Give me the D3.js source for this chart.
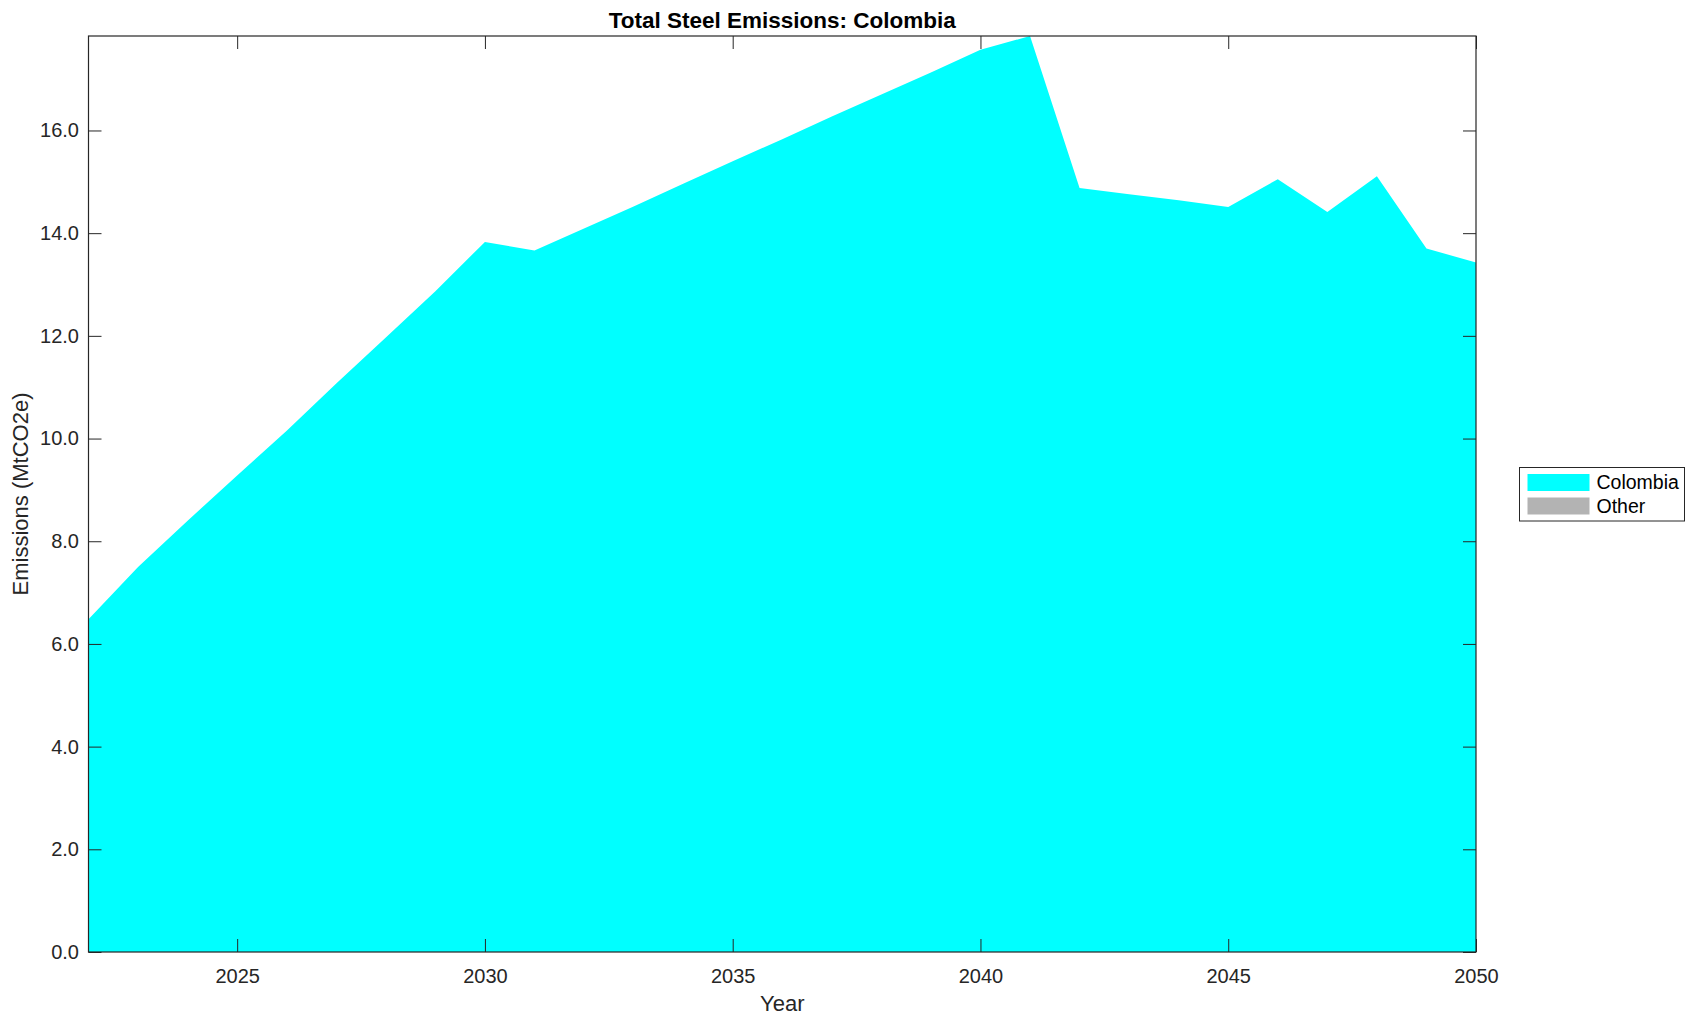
<!DOCTYPE html>
<html>
<head>
<meta charset="utf-8">
<script src="https://cdn.jsdelivr.net/npm/d3@7"></script>
<style>
    body { margin: 0; background: #fff; }
    text { font-family: "Liberation Sans", Arial, Helvetica, sans-serif; fill: #262626; }
</style>
</head>
<body>
<script>
var years = [2022, 2023, 2024, 2025, 2026, 2027, 2028, 2029, 2030, 2031, 2032, 2033, 2034, 2035,
    2036, 2037, 2038, 2039, 2040, 2041, 2042, 2043, 2044, 2045, 2046, 2047, 2048, 2049, 2050];
var colombia = [6.48, 7.50, 8.40, 9.28, 10.15, 11.07, 11.97, 12.87, 13.83, 13.66, 14.09, 14.52, 14.96, 15.40,
    15.83, 16.27, 16.70, 17.13, 17.57, 17.84, 14.88, 14.76, 14.64, 14.51, 15.05, 14.41, 15.11, 13.70, 13.43];
var other = [0, 0, 0, 0, 0, 0, 0, 0, 0, 0, 0, 0, 0, 0,
    0, 0, 0, 0, 0, 0, 0, 0, 0, 0, 0, 0, 0, 0, 0];
var seriesNames = ["Colombia", "Other"];
var seriesColors = ["#00ffff", "#b3b3b3"];
var xTicks = [2025, 2030, 2035, 2040, 2045, 2050];
var yTicks = [0, 2, 4, 6, 8, 10, 12, 14, 16];

(function () {
    var width = 1695,
        height = 1021;
    var left = 88.5, right = 1476, top = 36, bottom = 952;

    var rows = years.map(function (y, i) {
        return {year: y, Colombia: colombia[i], Other: other[i]};
    });
    var stacked = d3.stack().keys(seriesNames)(rows);

    var x = d3.scaleLinear().domain([2022, 2050]).range([left, right]);
    var ymax = d3.max(stacked[stacked.length - 1], function (d) { return d[1]; });
    var y = d3.scaleLinear().domain([0, ymax]).range([bottom, top]);

    var svg = d3.select("body").append("svg")
        .attr("width", width)
        .attr("height", height);

    var area = d3.area()
        .x(function (d) { return x(d.data.year); })
        .y0(function (d) { return y(d[0]); })
        .y1(function (d) { return y(d[1]); });

    svg.append("g")
        .selectAll("path")
        .data(stacked)
        .enter().append("path")
        .attr("d", area)
        .attr("fill", function (d, i) { return seriesColors[i]; });

    // axes, ticks pointing inward like matlab
    var axisColor = "#262626";
    var tickLen = 13;

    var xb = svg.append("g").attr("transform", "translate(0," + bottom + ")")
        .call(d3.axisBottom(x).tickValues(xTicks).tickFormat(d3.format("d")).tickSizeInner(-tickLen).tickSizeOuter(0).tickPadding(17));
    var xt = svg.append("g").attr("transform", "translate(0," + top + ")")
        .call(d3.axisTop(x).tickValues(xTicks).tickFormat("").tickSizeInner(-tickLen).tickSizeOuter(0));
    var yl = svg.append("g").attr("transform", "translate(" + left + ",0)")
        .call(d3.axisLeft(y).tickValues(yTicks).tickFormat(d3.format(".1f")).tickSizeInner(-tickLen).tickSizeOuter(0).tickPadding(9.5));
    var yr = svg.append("g").attr("transform", "translate(" + right + ",0)")
        .call(d3.axisRight(y).tickValues(yTicks).tickFormat("").tickSizeInner(-tickLen).tickSizeOuter(0));

    [xb, xt, yl, yr].forEach(function (g) {
        g.select(".domain").remove();
        g.selectAll(".tick line").attr("stroke", axisColor).attr("stroke-width", 1);
        g.selectAll(".tick text").attr("font-size", 20).attr("fill", axisColor)
            .style("font-family", "'Liberation Sans', Arial, sans-serif");
    });

    svg.append("rect")
        .attr("x", left).attr("y", top)
        .attr("width", right - left).attr("height", bottom - top)
        .attr("fill", "none")
        .attr("stroke", axisColor)
        .attr("stroke-width", 1.2);

    svg.append("text")
        .attr("x", (left + right) / 2)
        .attr("y", 27.5)
        .attr("text-anchor", "middle")
        .attr("font-size", 22.5)
        .attr("font-weight", "bold")
        .style("fill", "#000")
        .text("Total Steel Emissions: Colombia");

    svg.append("text")
        .attr("x", (left + right) / 2)
        .attr("y", 1011)
        .attr("text-anchor", "middle")
        .attr("font-size", 22)
        .text("Year");

    svg.append("text")
        .attr("transform", "translate(28," + (top + bottom) / 2 + ") rotate(-90)")
        .attr("text-anchor", "middle")
        .attr("font-size", 22)
        .text("Emissions (MtCO2e)");

    // legend
    var lg = svg.append("g").attr("transform", "translate(1519.5,467.5)");
    lg.append("rect")
        .attr("width", 165).attr("height", 53.5)
        .attr("fill", "#fff")
        .attr("stroke", axisColor)
        .attr("stroke-width", 1);
    seriesNames.forEach(function (name, i) {
        lg.append("rect")
            .attr("x", 8).attr("y", 6.5 + i * 23.5)
            .attr("width", 62).attr("height", 17)
            .attr("fill", seriesColors[i]);
        lg.append("text")
            .attr("x", 77).attr("y", 15 + i * 23.5)
            .attr("dy", "0.35em")
            .attr("font-size", 19.5)
            .style("fill", "#000")
            .text(name);
    });
}());
</script>
</body>
</html>
